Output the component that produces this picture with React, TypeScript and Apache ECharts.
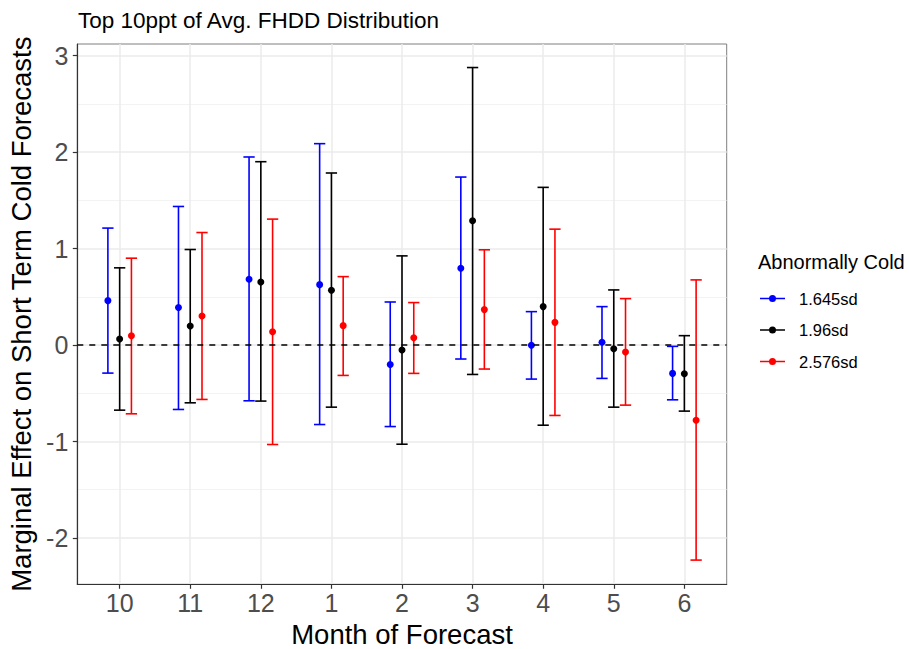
import React, { useEffect, useRef } from "react";
import * as echarts from "echarts";

// Forecast months (x categories) and their tick labels
const MONTHS = ["10", "11", "12", "1", "2", "3", "4", "5", "6"];
const Y_TICKS = [-2, -1, 0, 1, 2, 3];
const Y_MINOR = [-1.5, -0.5, 0.5, 1.5, 2.5];

// Threshold groups
const GROUPS = ["1.645sd", "1.96sd", "2.576sd"];
const COLORS = ["#0000FF", "#000000", "#FF0000"];

// Point estimates and confidence bounds per group
const est1645 = [0.46, 0.388, 0.682, 0.626, -0.201, 0.796, -0.003, 0.028, -0.294];
const lo1645 = [-0.291, -0.668, -0.578, -0.824, -0.845, -0.145, -0.353, -0.346, -0.568];
const hi1645 = [1.212, 1.436, 1.949, 2.087, 0.446, 1.741, 0.346, 0.398, -0.014];

const est196 = [0.062, 0.197, 0.654, 0.568, -0.052, 1.288, 0.398, -0.038, -0.298];
const lo196 = [-0.675, -0.599, -0.581, -0.644, -1.028, -0.305, -0.831, -0.644, -0.685];
const hi196 = [0.8, 0.99, 1.9, 1.783, 0.924, 2.876, 1.634, 0.571, 0.097];

const est2576 = [0.097, 0.301, 0.138, 0.201, 0.076, 0.367, 0.235, -0.073, -0.779];
const lo2576 = [-0.713, -0.564, -1.031, -0.315, -0.294, -0.249, -0.73, -0.623, -2.229];
const hi2576 = [0.9, 1.166, 1.305, 0.709, 0.44, 0.987, 1.201, 0.481, 0.675];

const EST = [est1645, est196, est2576];
const LO = [lo1645, lo196, lo2576];
const HI = [hi1645, hi196, hi2576];

// Dodge width (in category units) shared across the three groups, and cap width
const DODGE = 0.5;
const CAP_W = 0.16;

const FONT = "'Liberation Sans', Arial, Helvetica, sans-serif";

const LEGEND_ICON =
  "path://M0,2.75 L25,2.75 L25,4.25 L0,4.25 Z M9,3.5 A3.5,3.5 0 1,1 16,3.5 A3.5,3.5 0 1,1 9,3.5 Z";

export default function App() {
  const ref = useRef<HTMLDivElement>(null);

  useEffect(() => {
    if (!ref.current) return;
    const chart = echarts.init(ref.current, null, { renderer: "svg" });

    const series: any[] = [];
    GROUPS.forEach((name, g) => {
      const offset = (g - 1) * (DODGE / 3);
      const color = COLORS[g];
      series.push({
        name,
        type: "custom",
        z: 3,
        color,
        encode: { x: 0, y: [1, 2] },
        data: MONTHS.map((_, i) => [i + 1 + offset, LO[g][i], HI[g][i]]),
        renderItem: (params: any, api: any) => {
          const x = api.value(0);
          const pLo = api.coord([x, api.value(1)]);
          const pHi = api.coord([x, api.value(2)]);
          const hw = api.size([CAP_W / 2, 0])[0];
          const style = { stroke: color, lineWidth: 1.6 };
          return {
            type: "group",
            children: [
              { type: "line", shape: { x1: pLo[0], y1: pLo[1], x2: pHi[0], y2: pHi[1] }, style },
              { type: "line", shape: { x1: pLo[0] - hw, y1: pLo[1], x2: pLo[0] + hw, y2: pLo[1] }, style },
              { type: "line", shape: { x1: pHi[0] - hw, y1: pHi[1], x2: pHi[0] + hw, y2: pHi[1] }, style },
            ],
          };
        },
        ...(g === 0
          ? {
              markLine: {
                silent: true,
                symbol: ["none", "none"],
                label: { show: false },
                lineStyle: { type: [6, 6], color: "#000000", width: 1.5 },
                data: [{ yAxis: 0 }],
              },
            }
          : {}),
      });
    });
    GROUPS.forEach((name, g) => {
      const offset = (g - 1) * (DODGE / 3);
      series.push({
        name,
        type: "scatter",
        z: 4,
        symbol: "circle",
        symbolSize: 7,
        itemStyle: { color: COLORS[g], opacity: 1 },
        data: MONTHS.map((_, i) => [i + 1 + offset, EST[g][i]]),
      });
    });

    chart.setOption({
      animation: false,
      backgroundColor: "#ffffff",
      textStyle: { fontFamily: FONT },
      title: [
        {
          text: "Top 10ppt of Avg. FHDD Distribution",
          left: 78,
          top: 9,
          padding: 0,
          textStyle: { fontFamily: FONT, fontSize: 22.5, fontWeight: "normal", color: "#000000" },
        },
        {
          text: "Abnormally Cold",
          left: 758,
          top: 252,
          padding: 0,
          textStyle: { fontFamily: FONT, fontSize: 20, fontWeight: "normal", color: "#000000" },
        },
      ],
      legend: {
        orient: "vertical",
        left: 760,
        top: 290,
        padding: 0,
        itemWidth: 25,
        itemHeight: 7,
        itemGap: 14.5,
        selectedMode: false,
        data: GROUPS.map((name, g) => ({
          name,
          icon: LEGEND_ICON,
          itemStyle: { color: COLORS[g] },
        })),
        textStyle: { fontFamily: FONT, fontSize: 16.5, color: "#000000", padding: [0, 0, 0, 9] },
      },
      grid: {
        left: 77.3,
        top: 44,
        right: 182.3,
        bottom: 64.7,
        containLabel: false,
        outerBoundsMode: "none",
        show: true,
        borderColor: "#7f7f7f",
        borderWidth: 1,
        backgroundColor: "transparent",
      },
      xAxis: {
        type: "value",
        min: 0.4,
        max: 9.6,
        name: "Month of Forecast",
        nameLocation: "middle",
        nameGap: 35,
        nameTextStyle: { fontFamily: FONT, fontSize: 27.5, color: "#000000" },
        axisLine: { show: true, onZero: false, lineStyle: { color: "#333333", width: 1.2 } },
        axisTick: {
          show: true,
          length: 4.5,
          customValues: MONTHS.map((_, i) => i + 1),
          lineStyle: { color: "#333333", width: 1.2 },
        },
        axisLabel: {
          customValues: MONTHS.map((_, i) => i + 1),
          formatter: (v: number) => MONTHS[Math.round(v) - 1] ?? "",
          fontFamily: FONT,
          fontSize: 25,
          color: "#4D4D4D",
          margin: 6,
        },
        splitLine: { show: true, lineStyle: { color: "#EBEBEB", width: 1.5 } },
      },
      yAxis: [
        {
          type: "value",
          min: -2.48,
          max: 3.12,
          name: "Marginal Effect on Short Term Cold Forecasts",
          nameLocation: "middle",
          nameGap: 41,
          nameTextStyle: { fontFamily: FONT, fontSize: 27.5, color: "#000000" },
          axisLine: { show: true, onZero: false, lineStyle: { color: "#333333", width: 1.2 } },
          axisTick: {
            show: true,
            length: 4.5,
            customValues: Y_TICKS,
            lineStyle: { color: "#333333", width: 1.2 },
          },
          axisLabel: {
            customValues: Y_TICKS,
            fontFamily: FONT,
            fontSize: 25,
            color: "#4D4D4D",
            margin: 9,
          },
          splitLine: { show: true, lineStyle: { color: "#EBEBEB", width: 1.5 } },
        },
        {
          type: "value",
          min: -2.48,
          max: 3.12,
          position: "left",
          axisLine: { show: false },
          axisTick: { show: false, customValues: Y_MINOR },
          axisLabel: { show: false, customValues: Y_MINOR },
          splitLine: { show: true, lineStyle: { color: "#F0F0F0", width: 0.8 } },
        },
      ],
      series,
    });

    return () => chart.dispose();
  }, []);

  return (
    <div
      ref={ref}
      style={{ position: "fixed", left: 0, top: 0, width: 909, height: 649, background: "#ffffff" }}
    />
  );
}
